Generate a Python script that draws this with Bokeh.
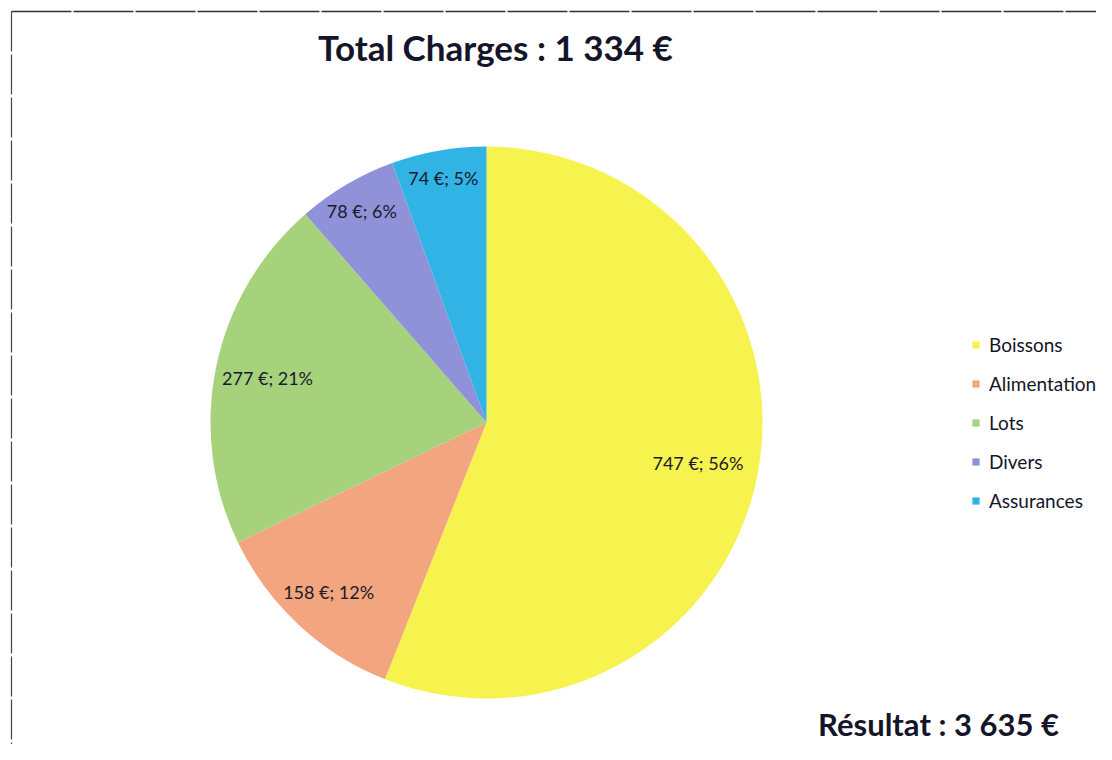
import math
from bokeh.plotting import figure
from bokeh.models import Range1d, ColumnDataSource, Legend, LegendItem
from bokeh.core.properties import value
from bokeh.embed import file_html
from bokeh.resources import INLINE

categories = ["Boissons", "Alimentation", "Lots", "Divers", "Assurances"]
amounts = [747, 158, 277, 78, 74]
percents = [56, 12, 21, 6, 5]
colors = ["#F7F34E", "#F2A57E", "#A6D27C", "#8F92D8", "#31B3E6"]
label_radius_frac = [0.78, 0.84, 0.81, 0.89, 0.9]
title_text = "Total Charges : 1 334 €"
result_text = "Résultat : 3 635 €"

W, H = 1096, 744
p = figure(width=W, height=H, output_backend="svg", toolbar_location=None,
           x_range=Range1d(0, W), y_range=Range1d(0, H),
           min_border=0, outline_line_color=None)
p.axis.visible = False
p.grid.visible = False
p.background_fill_color = "white"
p.border_fill_color = "white"

def Y(py):
    return H - py

cx, cy, R = 486, Y(422), 276
total = sum(amounts)
starts, ends, lx, ly, labels = [], [], [], [], []
cum = 0.0
for a, pc, f in zip(amounts, percents, label_radius_frac):
    s = math.pi / 2 - 2 * math.pi * cum / total
    cum += a
    e = math.pi / 2 - 2 * math.pi * cum / total
    starts.append(s)
    ends.append(e)
    m = (s + e) / 2
    lx.append(cx + f * R * math.cos(m))
    ly.append(cy + f * R * math.sin(m))
    labels.append(f"{a} €; {pc}%")

src = ColumnDataSource(dict(start=starts, end=ends, color=colors, cat=categories))
r = p.wedge(x=cx, y=cy, radius=R, start_angle="start", end_angle="end",
            direction="clock", fill_color="color", line_color=None, source=src)

p.text(x=lx, y=ly, text=labels, text_align="center", text_baseline="middle",
       text_font=value("Lato"), text_font_size="18px", text_color="#1a1a2a")

# Titles
p.text(x=[495], y=[Y(46)], text=[title_text], text_align="center", text_baseline="middle",
       text_font=value("Lato"), text_font_style="bold", text_font_size="35px", text_color="#15152a")
p.text(x=[938], y=[Y(723)], text=[result_text], text_align="center", text_baseline="middle",
       text_font=value("Lato"), text_font_style="bold", text_font_size="31px", text_color="#15152a")

# Frame lines (top and left)
p.line(x=[11, W], y=[Y(11), Y(11)], line_color="#333333", line_width=1.5, line_dash="60 2")
p.line(x=[11, 11], y=[Y(11), 0], line_color="#444444", line_width=1.2, line_dash="40 3")

items = [LegendItem(label=c, renderers=[r], index=i) for i, c in enumerate(categories)]
legend = Legend(items=items, location=(971, 232), border_line_color=None,
                background_fill_alpha=0, label_text_font="Lato", label_text_font_size="19px",
                label_text_color="#15152a", glyph_width=9, glyph_height=9,
                label_height=22, spacing=16, padding=0, margin=0, label_standoff=9)
p.add_layout(legend, "center")

open("out.html", "w").write(file_html(p, INLINE))
